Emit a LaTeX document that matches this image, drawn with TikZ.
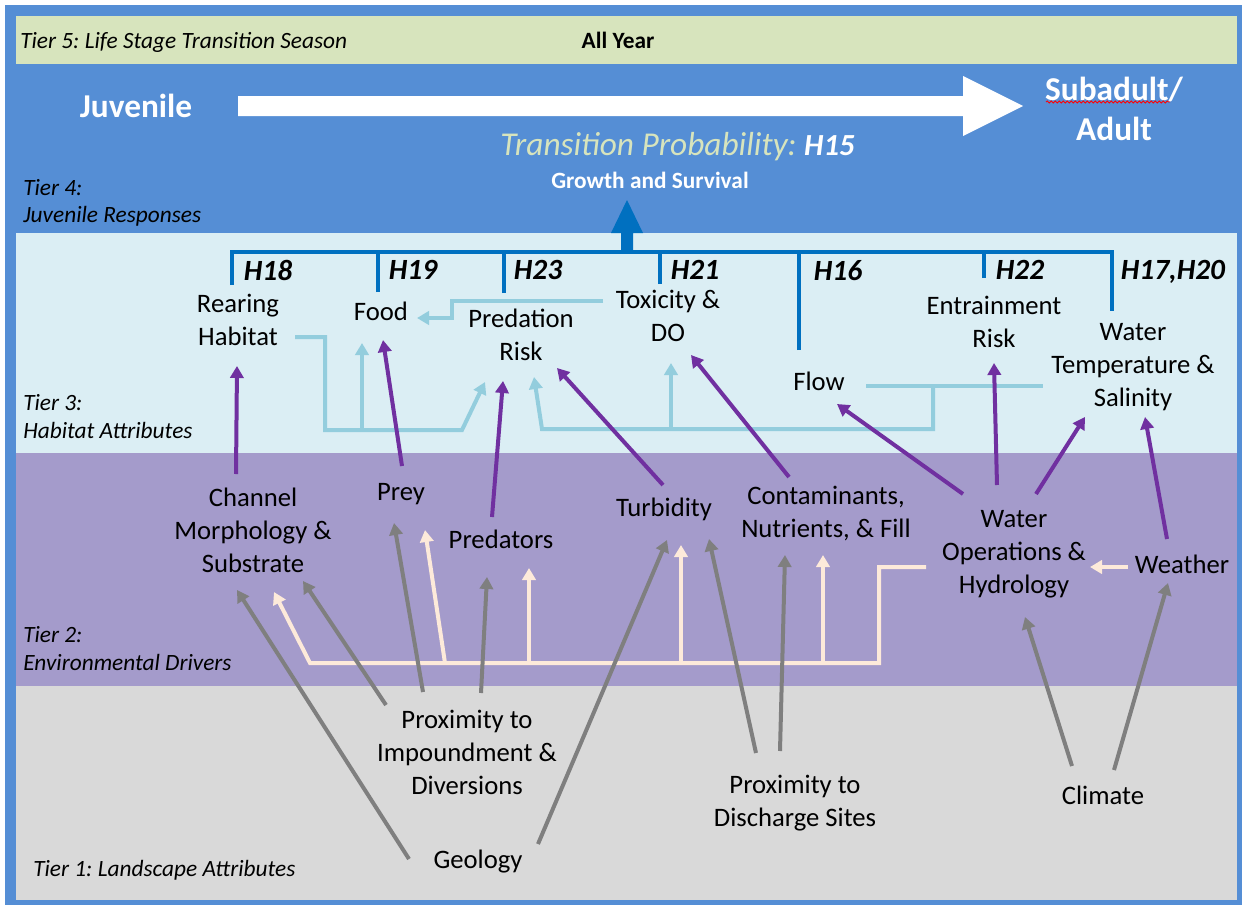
\documentclass[tikz,border=0pt]{standalone}
\usepackage{fontspec}
\setmainfont{Carlito}
\usetikzlibrary{arrows.meta,calc,decorations.pathmorphing}
\definecolor{frameblue}{HTML}{558ED5}
\definecolor{tierfive}{HTML}{D7E4BD}
\definecolor{tierthree}{HTML}{DBEEF4}
\definecolor{tiertwo}{HTML}{A49BCB}
\definecolor{tierone}{HTML}{D9D9D9}
\definecolor{brblue}{HTML}{0070C0}
\definecolor{ltblue}{HTML}{93CDDD}
\definecolor{purp}{HTML}{7030A0}
\definecolor{peach}{HTML}{FDEADA}
\definecolor{grayarr}{HTML}{7F7F7F}
\frenchspacing
\begin{document}
\begin{tikzpicture}[x=0.75pt,y=-0.75pt,
  lab/.style={inner sep=0pt,align=center,font=\fontsize{20}{24.75}\selectfont},
  tierlab/.style={inner sep=0pt,anchor=base west,font=\fontsize{17.5}{21}\selectfont\itshape},
  hlab/.style={inner sep=0pt,font=\fontsize{22}{26}\selectfont\bfseries\itshape},
  tipped/.style={-{Triangle[width=10pt,length=9pt]}},
  conn/.style={line width=3pt},
  bracket/.style={conn,draw=brblue},
  ltc/.style={conn,draw=ltblue},
  pchc/.style={conn,draw=peach},
  purc/.style={conn,draw=purp,tipped},
  grayc/.style={conn,draw=grayarr,tipped}
]
\useasboundingbox (0,0) rectangle (1247,907);
% backgrounds
\fill[white] (0,0) rectangle (1247,907);
\fill[frameblue] (5,5) rectangle (1242,905);
\fill[tierfive] (16,16) rectangle (1237,64);
\fill[tierthree] (16,233) rectangle (1237,453);
\fill[tiertwo] (16,453) rectangle (1237,686);
\fill[tierone] (16,686) rectangle (1237,900);

% tier labels
\node[tierlab] (t5) at (20,48) {Tier 5: Life Stage Transition Season};
\node[tierlab] (t4a) at (23,195) {Tier 4:};
\node[tierlab] (t4b) at (23,222) {Juvenile Responses};
\node[tierlab] (t3a) at (23,410) {Tier 3:};
\node[tierlab] (t3b) at (23,438) {Habitat Attributes};
\node[tierlab] (t2a) at (23,642) {Tier 2:};
\node[tierlab] (t2b) at (23,670) {Environmental Drivers};
\node[tierlab] (t1) at (33,876) {Tier 1: Landscape Attributes};

% top area
\node[inner sep=0pt,anchor=base,font=\fontsize{17.5}{21}\selectfont\bfseries] (allyear) at (618,48) {All Year};
\node[inner sep=0pt,anchor=base,text=white,font=\fontsize{25}{30}\selectfont\bfseries] (juv) at (136,117) {Juvenile};
\node[inner sep=0pt,align=center,text=white,font=\fontsize{25}{30}\selectfont\bfseries] (adult) at (1114,109) {Subadult/\\Adult};
\draw[red,line width=0.6pt,decorate,decoration={snake,amplitude=0.8pt,segment length=3pt}] (1046,102) -- (1170,102);
\fill[white] (238,96) -- (963,96) -- (963,76) -- (1023,106) -- (963,136) -- (963,116) -- (238,116) -- cycle;
\node[inner sep=0pt,anchor=base west,text=tierfive,font=\fontsize{25}{30}\selectfont\itshape] (tp) at (500,155) {Transition Probability: {\color{white}\fontsize{23}{28}\selectfont\bfseries H15}};
\node[inner sep=0pt,anchor=base,text=white,font=\fontsize{17.5}{21}\selectfont\bfseries] (gs) at (650,188) {Growth and Survival};

% tier 3 nodes
\node[lab] (rear) at (238,320) {Rearing\\Habitat};
\node[lab] (food) at (381,311) {Food};
\node[lab] (prisk) at (521,335) {Predation\\Risk};
\node[lab] (tox) at (668,316) {Toxicity \&\\DO};
\node[lab] (flow) at (819,381) {Flow};
\node[lab] (entr) at (994,322) {Entrainment\\Risk};
\node[lab] (wtemp) at (1133,367) {Water\\Temperature \&\\Salinity};
% tier 2 nodes
\node[lab] (chan) at (253,530) {Channel\\Morphology \&\\Substrate};
\node[lab] (prey) at (401,494) {Prey};
\node[lab] (pred) at (501,539) {Predators};
\node[lab] (turb) at (664,509) {Turbidity};
\node[lab] (cont) at (826,514) {Contaminants,\\Nutrients, \& Fill};
\node[lab] (wops) at (1014,554) {Water\\Operations \&\\Hydrology};
\node[lab] (weat) at (1182,564) {Weather};
% tier 1 nodes
\node[lab] (pimp) at (467,752) {Proximity to\\Impoundment \&\\Diversions};
\node[lab] (geo) at (478,862) {Geology};
\node[lab] (pdis) at (795,803) {Proximity to\\Discharge Sites};
\node[lab] (clim) at (1103,795) {Climate};

% H labels
\node[hlab] (h18) at (268,270) {H18};
\node[hlab] (h19) at (413,270) {H19};
\node[hlab] (h23) at (538,270) {H23};
\node[hlab] (h21) at (695,270) {H21};
\node[hlab] (h16) at (838,271) {H16};
\node[hlab] (h22) at (1020,270) {H22};
\node[hlab] (h1720) at (1173,272) {H17,H20};

% bracket
\coordinate (bt) at (627,252);
\coordinate (rear-b) at ($(rear)+(-6,-35)$);
\coordinate (food-b) at ($(food)+(-3,-19)$);
\coordinate (prisk-b) at ($(prisk)+(-17,-42)$);
\coordinate (tox-b) at ($(tox)+(-8,-32)$);
\coordinate (flow-b) at ($(flow)+(-20,-31)$);
\coordinate (entr-b) at ($(entr)+(-10,-44)$);
\coordinate (wtemp-b) at ($(wtemp)+(-21,-56)$);
\draw[bracket] (rear-b) -- (rear-b |- bt) -- (wtemp-b |- bt) -- (wtemp-b);
\foreach \n in {food,prisk,tox,flow,entr} \draw[bracket] (\n-b) -- (\n-b |- bt);
\fill[brblue] (621,253) -- (621,233) -- (611,233) -- (627,200) -- (643,233) -- (633,233) -- (633,253) -- cycle;

% light blue connectors (tier 3)
\draw[ltc,tipped] ($(rear)+(57,17)$) -- ++(30,0) -- ++(0,93) -- ++(137,0) -- ($(prisk)+(-36,47)$);
\coordinate (j1) at (362,430);
\draw[ltc,tipped] (j1) -- ($(food)+(-19,32)$);
\draw[ltc,tipped] ($(tox)+(-65,-15)$) -- ++(-151,0) -- ++(0,17) -- ($(food)+(36,7)$);
\draw[ltc] ($(flow)+(47,5)$) -- ($(wtemp)+(-90,19)$);
\coordinate (j3) at (933,386);
\draw[ltc,tipped] (j3) -- ++(0,43) -- (542,429) -- ($(prisk)+(13,42)$);
\coordinate (j4) at (671,429);
\draw[ltc,tipped] (j4) -- ($(tox)+(3,47)$);

% peach connectors (tier 2)
\draw[pchc,tipped] ($(wops)+(-88,13)$) -- ++(-47,0) -- ++(0,96) -- (310,663) -- ($(chan)+(21,62)$);
\coordinate (p1) at (445,663);
\coordinate (p2) at (529,663);
\coordinate (p3) at (681,663);
\coordinate (p4) at (823,663);
\draw[pchc,tipped] (p1) -- ($(prey)+(24,36)$);
\draw[pchc,tipped] (p2) -- ($(pred)+(28,29)$);
\draw[pchc,tipped] (p3) -- ($(turb)+(17,36)$);
\draw[pchc,tipped] (p4) -- ($(cont)+(-3,41)$);
\draw[pchc,tipped] ($(weat)+(-54,3)$) -- ($(wops)+(76,13)$);

% purple connectors (tier 2 -> tier 3)
\draw[purc] ($(chan)+(-17,-56)$) -- ($(rear)+(-1,46)$);
\draw[purc] ($(prey)+(1,-28)$) -- ($(food)+(2,29)$);
\draw[purc] ($(pred)+(-9,-22)$) -- ($(prisk)+(-18,46)$);
\draw[purc] ($(turb)+(-1,-24)$) -- ($(prisk)+(36,33)$);
\draw[purc] ($(cont)+(-37,-37)$) -- ($(tox)+(23,39)$);
\draw[purc] ($(wops)+(-51,-60)$) -- ($(flow)+(18,23)$);
\draw[purc] ($(wops)+(-17,-69)$) -- ($(entr)+(0,41)$);
\draw[purc] ($(wops)+(22,-60)$) -- ($(wtemp)+(-48,50)$);
\draw[purc] ($(weat)+(-15,-25)$) -- ($(wtemp)+(12,50)$);

% gray connectors (tier 1 -> tier 2)
\draw[grayc] ($(geo)+(-69,-3)$) -- ($(chan)+(-16,60)$);
\draw[grayc] ($(geo)+(60,-18)$) -- ($(turb)+(3,31)$);
\draw[grayc] ($(pimp)+(-81,-47)$) -- ($(chan)+(50,51)$);
\draw[grayc] ($(pimp)+(-44,-60)$) -- ($(prey)+(-7,29)$);
\draw[grayc] ($(pimp)+(14,-59)$) -- ($(pred)+(-14,38)$);
\draw[grayc] ($(pdis)+(-39,-50)$) -- ($(turb)+(45,30)$);
\draw[grayc] ($(pdis)+(-15,-52)$) -- ($(cont)+(-41,41)$);
\draw[grayc] ($(clim)+(-31,-29)$) -- ($(wops)+(11,63)$);
\draw[grayc] ($(clim)+(11,-25)$) -- ($(weat)+(-14,19)$);
\end{tikzpicture}
\end{document}
